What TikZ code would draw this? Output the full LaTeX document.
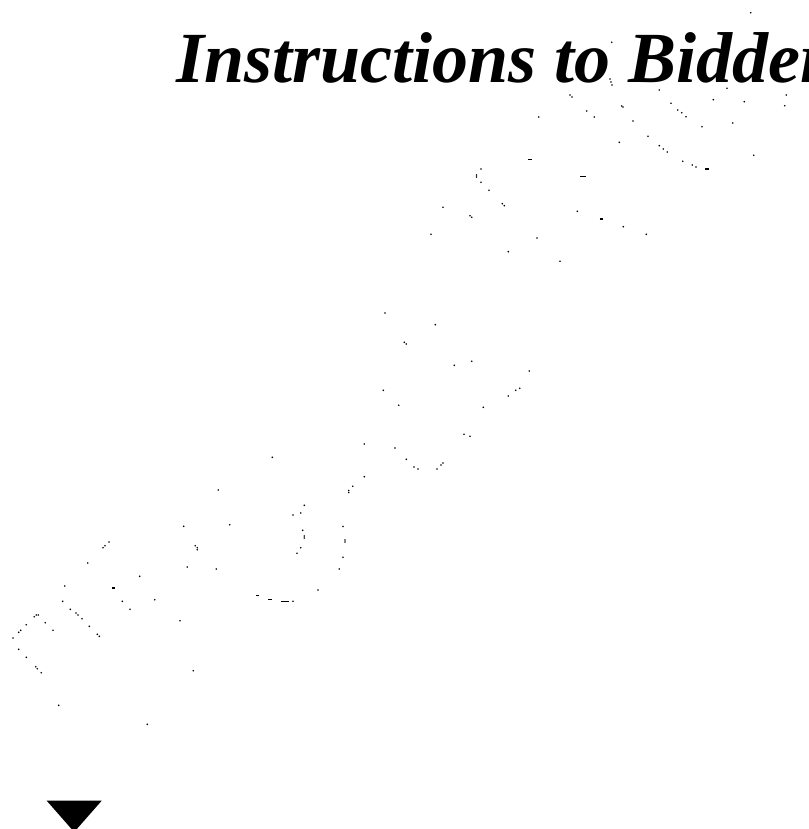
\documentclass[tikz,border=0pt]{standalone}
\usepackage{fontspec}
\setmainfont{Liberation Serif}
\begin{document}
\begin{tikzpicture}[x=1pt,y=-1pt,
  titletext/.style={font=\fontsize{72}{72}\selectfont\bfseries\itshape, inner sep=0pt, anchor=base west, text=black},
  wdot/.style={fill=black},
  wdash/.style={draw=black, line width=1.5pt},
  marker/.style={fill=black}]
\useasboundingbox (0,0) rectangle (808,829);
\begin{scope}
\clip (0,0) rectangle (808,829);
\node[titletext] (title) at (176,82.7) {Instructions to Bidder};
% watermark dots
\foreach \px/\py in {
 750.7/12.7, 611.7/42.3, 610/79, 611/82, 612/85, 570/95, 572/97, 538.7/117,
 586.7/111, 594.3/117, 621.7/106, 623/107, 633/121, 619.3/142.3, 648/136.3,
 659.3/90, 671/103.3, 677.7/110, 681.7/112.7, 686/116.7, 659.3/145.7, 663.3/149,
 667.3/152, 682.7/161.3, 692.3/165, 696/167, 713.3/99.7, 702/126.7,
 727/88.3, 744.3/101.7, 732.7/123, 753.7/155.3, 786.3/95, 784.7/105.7,
 481/169, 476.5/175, 476.5/177, 481/182.3, 489/190.3,
 443/207.3, 470/215.7, 471.7/217.3, 502.3/203.7, 504.3/205.7, 431/234.3, 537/238,
 508.3/251.7, 577.3/211.3, 623.3/226.7, 646.3/234.3, 560/261.3,
 385/313, 435.3/324.7, 404.3/342.3, 406.3/344, 471.7/361.3, 454.3/365.3, 529.3/371,
 515.7/390.3, 519.7/388.3, 508.3/396, 383.3/390.3, 398.7/405.3, 483.3/407.3,
 464/434.3, 470/436.3, 364.3/444, 395/448,
 406.3/459.3, 414/467, 418/469, 437/469, 441/465, 443/463, 364.3/476.7, 352.7/486.3,
 348.7/490.5, 348.7/492.5, 343/526.5, 345/540, 345/542, 343/557.3, 339.3/569,
 272.3/457.3, 218.3/490, 304.3/505.3, 293/515, 300.7/513, 302.7/530.3, 304.3/536,
 304.3/538, 300.7/547.7, 297/553.3, 318/590, 293/601.3,
 183.7/526.3, 229.7/524.7, 195.3/545.7, 197.3/547.7, 197.3/549.7, 187.3/567, 216.3/569,
 180/620.7, 193.3/670.7, 147.3/724.3, 58.7/705.3, 139.7/576.3, 154.7/599.7, 130/609.3,
 122.3/601.3, 87.7/563, 103/547.7, 105/545.7, 109/542, 64.7/586, 62.7/601.3,
 70.3/609.3, 76/613, 78/615, 82/618.7, 89.3/626.3, 97.3/634.3, 99.3/636.3, 45.3/622.7,
 53/630.3, 34.3/616.7, 36.3/615, 38.3/615, 26.3/624.7, 20.7/630.3, 18.7/632.3, 13/638,
 18.7/649.3, 26.3/657.3, 35.7/666.7, 37.3/668.7, 41.3/672.7}
 \fill[wdot] (\px,\py) circle (0.9pt);
% short watermark dashes
\foreach \ax/\bx/\yy in {528/532/159.3, 580/586/176.7, 705/709/169, 599.5/603/219,
 281/289.3/601.3, 268/271.7/599.7, 256/259/595.7, 112.3/115/588}
 \draw[wdash] (\ax,\yy) -- (\bx,\yy);
% marker triangle
\fill[marker] (46.7,800.7) -- (101.7,800.7) -- (74.2,832) -- cycle;
\end{scope}
\end{tikzpicture}
\end{document}
